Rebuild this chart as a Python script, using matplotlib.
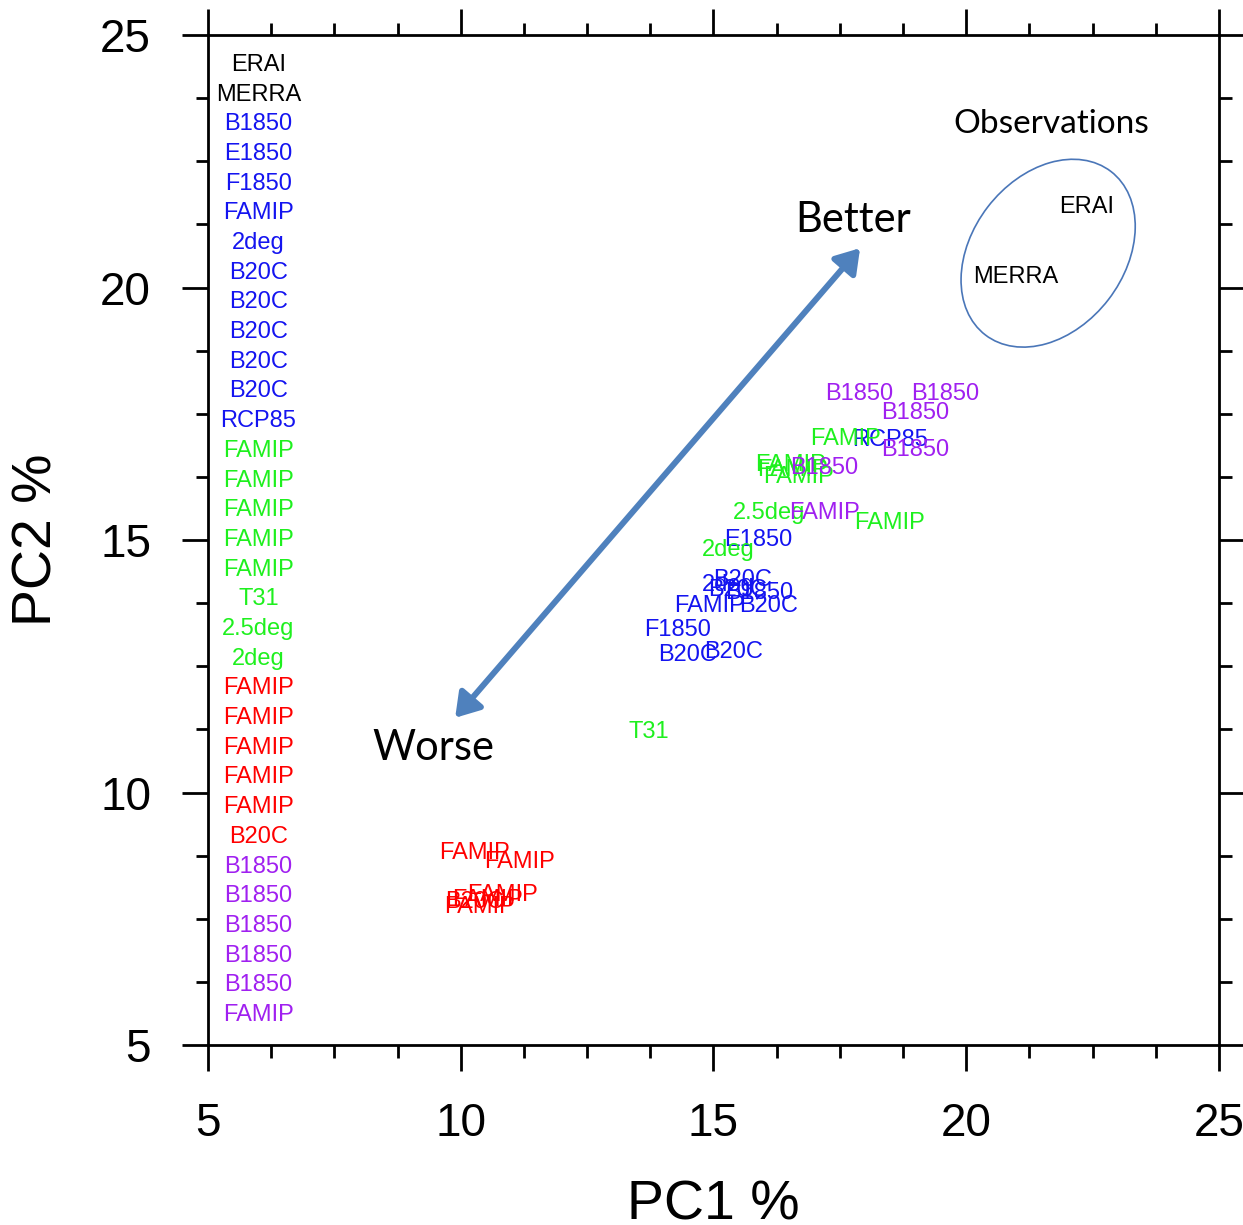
import numpy as np
import matplotlib.pyplot as plt
from matplotlib.patches import Ellipse
from matplotlib.ticker import MultipleLocator

# model runs, grouped by colour
names_obs = ['ERAI', 'MERRA']
pc1_obs = [22.39, 20.98]
pc2_obs = [21.59, 20.21]

names_blue = ['B1850', 'E1850', 'F1850', 'FAMIP', '2deg', 'B20C', 'B20C', 'B20C', 'B20C', 'B20C', 'RCP85']
pc1_blue = [15.90, 15.88, 14.28, 14.93, 15.29, 15.58, 15.48, 16.08, 14.48, 15.39, 18.49]
pc2_blue = [13.95, 15.00, 13.22, 13.69, 14.11, 14.21, 14.01, 13.69, 12.72, 12.78, 16.98]

names_green = ['FAMIP', 'FAMIP', 'FAMIP', 'FAMIP', 'FAMIP', 'T31', '2.5deg', '2deg']
pc1_green = [17.62, 16.53, 16.69, 16.57, 18.49, 13.72, 16.10, 15.29]
pc2_green = [17.00, 16.49, 16.25, 16.39, 15.34, 11.20, 15.53, 14.80]

names_red = ['FAMIP', 'FAMIP', 'FAMIP', 'FAMIP', 'FAMIP', 'B20C']
pc1_red = [10.28, 11.17, 10.82, 10.38, 10.52, 10.28]
pc2_red = [8.80, 8.62, 7.97, 7.73, 7.87, 7.83]

names_purple = ['B1850', 'B1850', 'B1850', 'B1850', 'B1850', 'FAMIP']
pc1_purple = [17.88, 19.58, 18.99, 18.99, 17.19, 17.19]
pc2_purple = [17.89, 17.89, 17.51, 16.78, 16.43, 15.53]

groups = [
    (names_obs, pc1_obs, pc2_obs, 'black'),
    (names_blue, pc1_blue, pc2_blue, '#1414f0'),
    (names_green, pc1_green, pc2_green, '#1ef01e'),
    (names_red, pc1_red, pc2_red, '#ff0000'),
    (names_purple, pc1_purple, pc2_purple, '#a020f0'),
]

fig = plt.figure(figsize=(12.43, 12.25), dpi=100)
ax = fig.add_axes([0.1673, 0.1469, 0.8134, 0.8245])
ax.set_xlim(5, 25)
ax.set_ylim(5, 25)

lab_font = 'Liberation Sans'

# the labels themselves are the markers
for names, xs, ys, col in groups:
    for n, x, y in zip(names, xs, ys):
        ax.text(x, y, n, color=col, fontsize=17, family=lab_font,
                ha='center', va='center')

# list of runs down the left side
col_x = 6.0
col_top = 24.41
col_step = 0.588
k = 0
for names, xs, ys, col in groups:
    for n in names:
        ax.text(col_x, col_top - k * col_step, n, color=col, fontsize=17,
                family=lab_font, ha='center', va='center')
        k += 1

# observations circle and annotations
ax.add_patch(Ellipse((21.62, 20.68), 4.08, 3.01, angle=52.5, fill=False,
                     edgecolor='#4a76b8', lw=1.2))
ax.text(21.68, 23.24, 'Observations', fontsize=24, family='Lato',
        ha='center', va='center')
ax.annotate('', xy=(17.90, 20.78), xytext=(9.89, 11.48),
            arrowprops=dict(arrowstyle='<|-|>,head_length=0.7,head_width=0.45',
                            color='#4f81bd', lw=4.3, mutation_scale=20,
                            shrinkA=0, shrinkB=0))
ax.text(17.76, 21.34, 'Better', fontsize=30, family='Lato',
        ha='center', va='center')
ax.text(9.45, 10.88, 'Worse', fontsize=30, family='Lato',
        ha='center', va='center')

ax.xaxis.set_major_locator(MultipleLocator(5))
ax.yaxis.set_major_locator(MultipleLocator(5))
ax.xaxis.set_minor_locator(MultipleLocator(1.25))
ax.yaxis.set_minor_locator(MultipleLocator(1.25))
ax.tick_params(which='both', direction='out', top=True, right=True, width=2)
ax.tick_params(which='major', length=19, labelsize=33, pad=22)
ax.tick_params(which='minor', length=9)
for lbl in ax.get_xticklabels() + ax.get_yticklabels():
    lbl.set_family(lab_font)
for sp in ax.spines.values():
    sp.set_linewidth(2)

ax.set_xlabel('PC1 %', fontsize=40, family=lab_font, labelpad=24)
ax.set_ylabel('PC2 %', fontsize=40, family=lab_font, labelpad=26)

fig.savefig('out.png', dpi=100)
